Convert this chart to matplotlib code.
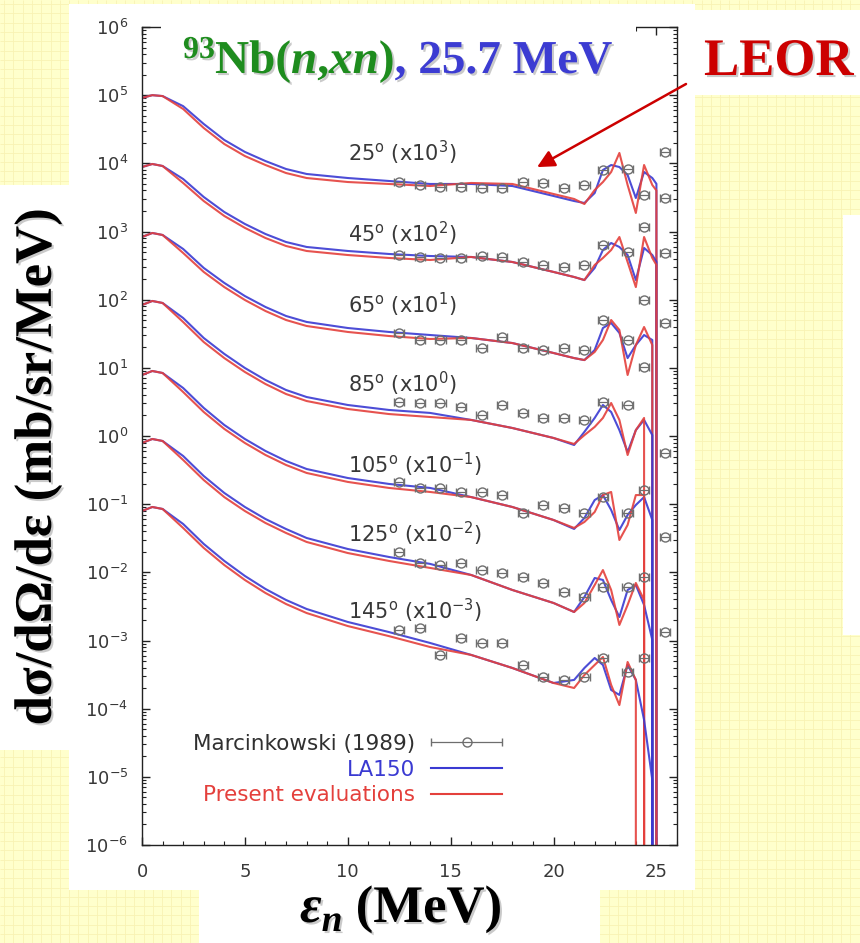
import numpy as np
import matplotlib.pyplot as plt
from matplotlib import patheffects
from matplotlib.patches import Rectangle
from matplotlib.transforms import IdentityTransform
from matplotlib.ticker import LogLocator, MultipleLocator, NullFormatter
from matplotlib.container import ErrorbarContainer
from matplotlib.legend_handler import HandlerErrorbar

W, H = 860, 943

# emission angles and the decade shift applied to each spectrum
angles = [25, 45, 65, 85, 105, 125, 145]
powers = [3, 2, 1, 0, -1, -2, -3]
label_y = [14, 9.2, 8.4, 5.8, 3.8, 3.7, 2.7]   # unshifted height of the angle tags

# outgoing neutron energy grid of the calculations (MeV);
# each curve stops (drops to zero) at the last grid point it has a value for
e_calc = [0, 0.5, 1, 2, 3, 4, 5, 6, 7, 8, 10, 12, 14, 16, 18, 20, 21, 21.5,
          22, 22.4, 22.8, 23.2, 23.6, 24.0, 24.4, 24.8, 25.0]

# LA150 evaluation, mb/sr/MeV
la150_25 = [91, 100, 97, 69, 37.8, 22.0, 14.7, 10.8, 8.26, 6.98, 6.09, 5.51, 4.98, 4.98,
            4.65, 3.32, 2.80, 2.62, 3.67, 7.98, 9.45, 8.83, 6.74, 3.10, 7.46, 6.09, 5.0]
la150_45 = [88.3, 97.8, 91.4, 58.9, 32.1, 19.3, 12.9, 9.19, 7.01, 5.93, 5.18, 4.68, 4.37, 4.23,
            3.57, 2.55, 2.15, 1.94, 2.92, 5.35, 6.78, 5.93, 4.52, 1.94, 5.73, 4.52, 3.57]
la150_65 = [83.0, 95.1, 88.9, 55.4, 29.2, 17.6, 11.3, 7.81, 5.76, 4.71, 3.84, 3.36, 3.03, 2.74,
            2.31, 1.65, 1.39, 1.30, 1.83, 3.84, 4.55, 3.25, 1.39, 2.16, 3.03, 2.56]
la150_85 = [83.5, 95.7, 89.4, 53.8, 27.4, 16.0, 9.95, 6.63, 4.73, 3.73, 2.85, 2.41, 2.18, 1.72,
            1.31, 0.935, 0.738, 1.15, 1.84, 2.85, 2.25, 1.22, 0.582, 1.22, 1.72, 1.03]
la150_105 = [78.5, 89.9, 84.0, 50.6, 25.8, 14.5, 9.04, 6.03, 4.30, 3.28, 2.42, 1.98, 1.73, 1.27,
             0.909, 0.586, 0.433, 0.627, 1.15, 1.36, 0.822, 0.418, 0.694, 0.973, 1.27, 0.586]
la150_125 = [79.0, 90.4, 84.5, 50.9, 25.9, 14.6, 9.09, 6.06, 4.32, 3.19, 2.20, 1.68, 1.33, 0.914,
             0.551, 0.355, 0.262, 0.435, 0.826, 0.773, 0.393, 0.221, 0.551, 0.652, 0.332, 0.102]
la150_145 = [79.4, 90.9, 85.0, 51.2, 26.1, 14.7, 8.85, 5.70, 3.93, 2.90, 1.87, 1.33, 0.920, 0.614,
             0.395, 0.238, 0.264, 0.395, 0.554, 0.438, 0.188, 0.159, 0.438, 0.264, 0.0683, 0.0090]

# present evaluation, mb/sr/MeV
pres_25 = [91, 100, 97, 62.7, 33.0, 19.2, 12.8, 9.45, 7.21, 6.09, 5.32, 4.98, 4.65, 5.15,
           4.98, 3.55, 3.0, 2.53, 4.06, 5.32, 7.46, 14.2, 4.81, 1.87, 9.45, 4.81, 4.0]
pres_45 = [88.3, 97.8, 91.4, 51.5, 28.0, 16.9, 11.3, 8.03, 6.13, 5.18, 4.52, 4.09, 3.82, 4.23,
           3.57, 2.55, 2.15, 1.94, 3.23, 4.09, 5.35, 8.30, 3.57, 1.53, 8.30, 4.09, 3.23]
pres_65 = [83.0, 95.1, 88.9, 48.4, 25.5, 15.3, 9.89, 6.82, 5.03, 4.11, 3.36, 2.93, 2.65, 2.74,
           2.31, 1.65, 1.39, 1.30, 1.71, 2.56, 5.03, 3.59, 0.785, 2.16, 3.97, 2.16]
pres_85 = [83.5, 95.7, 89.4, 47.0, 23.9, 13.9, 8.69, 5.79, 4.13, 3.26, 2.49, 2.10, 1.90, 1.72,
           1.31, 0.935, 0.764, 1.03, 1.36, 1.84, 3.05, 1.72, 0.526, 1.22, 1.84]
pres_105 = [78.5, 89.9, 84.0, 44.2, 22.5, 12.7, 7.90, 5.27, 3.76, 2.87, 2.12, 1.73, 1.51, 1.27,
            0.909, 0.586, 0.448, 0.548, 0.768, 1.36, 1.51, 0.298, 0.495, 1.36, 1.36]
pres_125 = [79.0, 90.4, 84.5, 44.5, 22.6, 12.7, 7.94, 5.30, 3.78, 2.79, 1.92, 1.47, 1.16, 0.914,
            0.551, 0.355, 0.262, 0.355, 0.652, 1.08, 0.551, 0.169, 0.332, 0.698, 0.393]
pres_145 = [79.4, 90.9, 85.0, 44.7, 22.8, 12.8, 7.72, 4.98, 3.43, 2.53, 1.63, 1.16, 0.803, 0.614,
            0.395, 0.238, 0.201, 0.312, 0.438, 0.573, 0.223, 0.113, 0.484, 0.264]

# Marcinkowski (1989) measurements, mb/sr/MeV
e_exp = [12.5, 13.5, 14.5, 15.5, 16.5, 17.5, 18.5, 19.5, 20.5, 21.5, 22.4, 23.6, 24.4, 25.4]
exp_25 = [5.3, 4.8, 4.5, 4.5, 4.3, 4.3, 5.3, 5.2, 4.3, 4.8, 8.0, 8.3, 3.4, 14.7]
exp_45 = [4.5, 4.2, 4.1, 4.1, 4.4, 4.2, 3.6, 3.2, 3.0, 3.2, 6.3, 5.0, 11.6, 31]
exp_65 = [3.2, 2.6, 2.6, 2.6, 1.95, 2.8, 1.95, 1.8, 1.95, 1.8, 5.0, 2.6, 9.9, 48]
exp_85 = [3.2, 3.05, 3.05, 2.7, 2.0, 2.85, 2.2, 1.85, 1.85, 1.7, 3.2, 2.85, 10.3, 45.5]
exp_105 = [2.1, 1.73, 1.73, 1.5, 1.5, 1.36, 0.74, 0.97, 0.88, 0.74, 1.27, 0.74, 1.6, 5.6]
exp_125 = [2.0, 1.37, 1.28, 1.37, 1.08, 0.98, 0.86, 0.70, 0.52, 0.43, 0.61, 0.61, 0.86, 3.3]
exp_145 = [1.43, 1.5, 0.61, 1.09, 0.92, 0.92, 0.44, 0.29, 0.26, 0.29, 0.55, 0.345, 0.56, 1.33]

la150_all = [la150_25, la150_45, la150_65, la150_85, la150_105, la150_125, la150_145]
pres_all = [pres_25, pres_45, pres_65, pres_85, pres_105, pres_125, pres_145]
exp_all = [exp_25, exp_45, exp_65, exp_85, exp_105, exp_125, exp_145]

BLUE = '#3a3ad2'
RED = '#e4403c'
GRAY = '#6e6e6e'
TXT = '#383838'

fig = plt.figure(figsize=(W / 100, H / 100), dpi=100)
px = IdentityTransform()


def box(x0, y0, x1, y1, z):
    # white panel given in pixels from the top-left corner
    fig.add_artist(Rectangle((x0, H - y1), x1 - x0, y1 - y0, transform=px,
                             facecolor='white', edgecolor='none', zorder=z))


# slide background: pale yellow squared paper
bg = fig.add_axes([0, 0, 1, 1], zorder=-10)
bg.set_xlim(0, W)
bg.set_ylim(H, 0)
bg.add_patch(Rectangle((0, 0), W, H, facecolor='#ffffcc', zorder=-1))
bg.vlines(np.arange(4, W, 9.3), 0, H, color='#f8f2b4', lw=0.6)
bg.hlines(np.arange(4, H, 9.3), 0, W, color='#f8f2b4', lw=0.6)
bg.axis('off')

box(69, 4, 695, 890, -5)      # plot panel
box(0, 185, 80, 750, -5)      # y label panel
box(199, 880, 600, 943, -5)   # x label panel
box(843, 215, 860, 635, -5)   # panel on the right edge
box(161, 23, 636, 92, 1)      # title panel
box(695, 10, 860, 95, 1)      # LEOR panel

ax = fig.add_axes([142 / W, 1 - 845 / H, 535 / W, 818 / H], zorder=0)
ax.set_facecolor('white')

for k, p in enumerate(powers):
    f = 10.0 ** p
    for vals, color in ((la150_all[k], BLUE), (pres_all[k], RED)):
        n = len(vals)
        e = e_calc[:n] + [e_calc[n - 1]]
        y = [v * f for v in vals] + [1e-9]
        ax.plot(e, y, color=color, lw=1.5, alpha=0.9)
    eb = ax.errorbar(e_exp, [v * f for v in exp_all[k]], xerr=0.25, fmt='o', ms=6.5,
                     mfc='none', mec=GRAY, mew=1.0, ecolor=GRAY, elinewidth=0.9,
                     capsize=3, capthick=0.9, zorder=3)
    if k == 0:
        exp_handle = eb
    ax.text(10.0, label_y[k] * f,
            f'{angles[k]}$^{{\\mathdefault{{o}}}}$ (x10$^{{\\mathdefault{{{p}}}}}$)',
            fontsize=15, color=TXT, va='center', ha='left')

ax.set_yscale('log')
ax.set_xlim(0, 26)
ax.set_ylim(1e-6, 1e6)
ax.xaxis.set_major_locator(MultipleLocator(5))
ax.xaxis.set_minor_locator(MultipleLocator(1))
ax.yaxis.set_major_locator(LogLocator(base=10, numticks=20))
ax.yaxis.set_minor_locator(LogLocator(base=10, subs=np.arange(2, 10), numticks=20))
ax.yaxis.set_minor_formatter(NullFormatter())
ax.tick_params(which='both', direction='in', top=True, right=True, colors='#222222',
               labelcolor=TXT, labelsize=13)
ax.tick_params(which='major', length=6, width=1)
ax.tick_params(which='minor', length=3, width=0.8)
ax.tick_params(axis='x', pad=13)
ax.tick_params(axis='y', pad=10)
for s in ax.spines.values():
    s.set_linewidth(1.0)
    s.set_color('#222222')

blue_line, = ax.plot([], [], color=BLUE, lw=1.5)
red_line, = ax.plot([], [], color=RED, lw=1.5)
ax.legend([exp_handle, blue_line, red_line],
          ['Marcinkowski (1989)', 'LA150', 'Present evaluations'],
          loc='upper right', bbox_to_anchor=(0.673, 0.136), frameon=False,
          markerfirst=False, fontsize=15.5, handlelength=3.3, handletextpad=0.75,
          labelspacing=0.27, borderpad=0, borderaxespad=0,
          labelcolor=['#303030', BLUE, RED],
          handler_map={ErrorbarContainer: HandlerErrorbar(xerr_size=1.65)})

shadow = [patheffects.withSimplePatchShadow(offset=(1.5, -1.5), shadow_rgbFace='#8a8a8a', alpha=0.45)]
serif = 'Liberation Serif'
renderer = fig.canvas.get_renderer()


def runs(x, y, pieces):
    # lay text pieces side by side, coordinates in pixels from the top-left
    for s, color, size, style, dy in pieces:
        t = fig.text(x, H - y + dy, s, transform=px, fontsize=size, color=color,
                     family=serif, weight='bold', style=style, va='baseline', ha='left',
                     path_effects=shadow, zorder=3)
        x = t.get_window_extent(renderer).x1


GREEN = '#1e8c1e'
TBLUE = '#3c3cd2'
runs(183, 73, [('93', GREEN, 23, 'normal', 15),
               ('Nb(', GREEN, 34, 'normal', 0),
               ('n', GREEN, 34, 'italic', 0),
               (',', GREEN, 34, 'normal', 0),
               ('xn', GREEN, 34, 'italic', 0),
               (')', GREEN, 34, 'normal', 0),
               (', 25.7 MeV', TBLUE, 34, 'normal', 0)])

fig.text(704, H - 75, 'LEOR', transform=px, fontsize=38, color='#cc0000', family=serif,
         weight='bold', va='baseline', ha='left', path_effects=shadow, zorder=3)

runs(300, 922, [('ε', 'black', 38, 'italic', 0),
                ('n', 'black', 27, 'italic', -9),
                (' (MeV)', 'black', 38, 'normal', 0)])

fig.text(38, H - 467, 'dσ/dΩ/dε (mb/sr/MeV)', transform=px, rotation=90, fontsize=38,
         family=serif, weight='bold', color='black', ha='center', va='center',
         path_effects=shadow, zorder=3)

# arrow from the LEOR tag to the forward-angle spectrum
ax.annotate('', xy=(19.2, 8.8e3), xytext=(686, H - 84), textcoords='figure pixels',
            annotation_clip=False,
            arrowprops=dict(arrowstyle='-|>', color='#cc0000', lw=1.8, mutation_scale=26,
                            shrinkA=0, shrinkB=0))

fig.savefig('out.png', dpi=100)
